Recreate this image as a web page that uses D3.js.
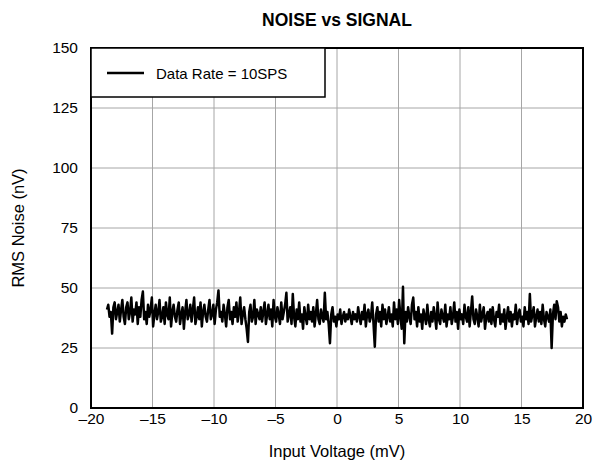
<!DOCTYPE html>
<html><head><meta charset="utf-8">
<script src="https://cdn.jsdelivr.net/npm/d3@7"></script>
<style>body{margin:0;background:#fff;} svg{display:block;font-family:"Liberation Sans",Arial,sans-serif;}</style>
</head><body>
<svg id="c" width="598" height="462"></svg>
<script>
const title = "NOISE vs SIGNAL";
const xLabel = "Input Voltage (mV)";
const yLabel = "RMS Noise (nV)";
const legendLabel = "Data Rate = 10SPS";
const xTicks = [-20,-15,-10,-5,0,5,10,15,20];
const yTicks = [0,25,50,75,100,125,150];
const xStart = -18.7, xEnd = 18.7;
const noise = [
41,43,38,40,31,42,44,37,40,43,36,41,45,38,35,42,44,37,40,46,
36,41,39,44,35,42,38,45,48.5,37,40,35,43,38,41,46,34,39,43,37,
40,45,36,38,42,35,44,39,37,46,34,40,43,38,36,41,44,35,39,42,
33,40,45,37,39,43,36,41,46,35,38,42,37,44,34,40,43,38,36,41,
45,37,39,43,35,41,44,49,38,40,36,43,39,34,42,45,37,40,35,42,
38,44,36,40,46,35,39,42,37,33,27.5,40,43,36,38,45,35,41,39,37,
42,36,40,44,35,39,43,37,41,34,45,38,36,42,39,35,44,37,40,43,
48,36,39,42,35,47.5,38,34,41,37,44,36,39,33,42,38,35,43,37,40,
36,42,34,39,45,37,35,41,38,36,48,37,40,35,27,39,42,36,38,34,
39,37,41,35,38,40,36,39,37,41,38,35,40,37,39,36,42,38,35,40,
37,43,34,39,41,36,38,44,35,25.5,39,42,36,40,34,43,37,41,35,38,
42,36,39,34,44,37,41,35,45,38,33,50.5,27,40,36,42,38,35,43,46,
37,40,34,42,36,39,33,41,38,35,43,37,34,40,36,42,38,33,44,37,
35,41,38,36,43,34,39,37,42,35,38,44,36,40,33,41,37,39,35,43,
38,36,42,34,40,46.5,37,35,41,38,34,43,36,39,42,33,38,40,36,41,
35,42,37,34,40,38,43,35,39,36,41,33,38,42,36,40,34,39,37,43,
35,39,41,36,38,34,42,37,40,35,47.5,36,39,42,34,38,41,36,40,35,
43,37,34,40,38,36,41,25,39,43,37,44.5,42,36,40,34,38,36,39,37
];
const inputV = noise.map((_, i) => xStart + (xEnd - xStart) * i / (noise.length - 1));

const L = 91, R = 583, T = 48, B = 408;
const svg = d3.select("#c");
const x = d3.scaleLinear().domain([-20, 20]).range([L, R]);
const y = d3.scaleLinear().domain([0, 150]).range([B, T]);
const fmt = v => (v < 0 ? "\u2013" + Math.abs(v) : String(v));

// grid
svg.append("g").selectAll("line").data(xTicks.slice(1, -1)).join("line")
  .attr("x1", d => x(d)).attr("x2", d => x(d)).attr("y1", T).attr("y2", B)
  .attr("stroke", "#a6a6a6").attr("stroke-width", 1);
svg.append("g").selectAll("line").data(yTicks.slice(1, -1)).join("line")
  .attr("y1", d => y(d)).attr("y2", d => y(d)).attr("x1", L).attr("x2", R)
  .attr("stroke", "#a6a6a6").attr("stroke-width", 1);

// axes labels via d3 axes
const xa = svg.append("g").attr("transform", `translate(0,${B})`)
  .call(d3.axisBottom(x).tickValues(xTicks).tickFormat(fmt).tickSize(0).tickPadding(5));
const ya = svg.append("g").attr("transform", `translate(${L},0)`)
  .call(d3.axisLeft(y).tickValues(yTicks).tickFormat(fmt).tickSize(0).tickPadding(13));
[xa, ya].forEach(a => {
  a.select(".domain").remove();
  a.selectAll("text").attr("font-size", 15.5).attr("fill", "#000")
    .attr("font-family", "'Liberation Sans',Arial,sans-serif");
});

// data line
svg.append("path").datum(noise)
  .attr("fill", "none").attr("stroke", "#000").attr("stroke-width", 2.5)
  .attr("stroke-linejoin", "round")
  .attr("d", d3.line().x((d, i) => x(inputV[i])).y(d => y(d)));

// frame
svg.append("rect").attr("x", L).attr("y", T).attr("width", R - L).attr("height", B - T)
  .attr("fill", "none").attr("stroke", "#000").attr("stroke-width", 2);

// legend
svg.append("rect").attr("x", L).attr("y", T).attr("width", 234).attr("height", 49)
  .attr("fill", "#fff").attr("stroke", "#000").attr("stroke-width", 1.5);
svg.append("line").attr("x1", 107).attr("x2", 144).attr("y1", 73).attr("y2", 73)
  .attr("stroke", "#000").attr("stroke-width", 2.5);
svg.append("text").attr("x", 156).attr("y", 78.5).attr("font-size", 15).text(legendLabel);

// titles
svg.append("text").attr("x", 337).attr("y", 26).attr("text-anchor", "middle")
  .attr("font-size", 17.5).attr("font-weight", "bold").text(title);
svg.append("text").attr("x", 337).attr("y", 457).attr("text-anchor", "middle")
  .attr("font-size", 16.5).text(xLabel);
svg.append("text").attr("transform", "translate(24,228) rotate(-90)").attr("text-anchor", "middle")
  .attr("font-size", 16.5).text(yLabel);
</script>
</body></html>
